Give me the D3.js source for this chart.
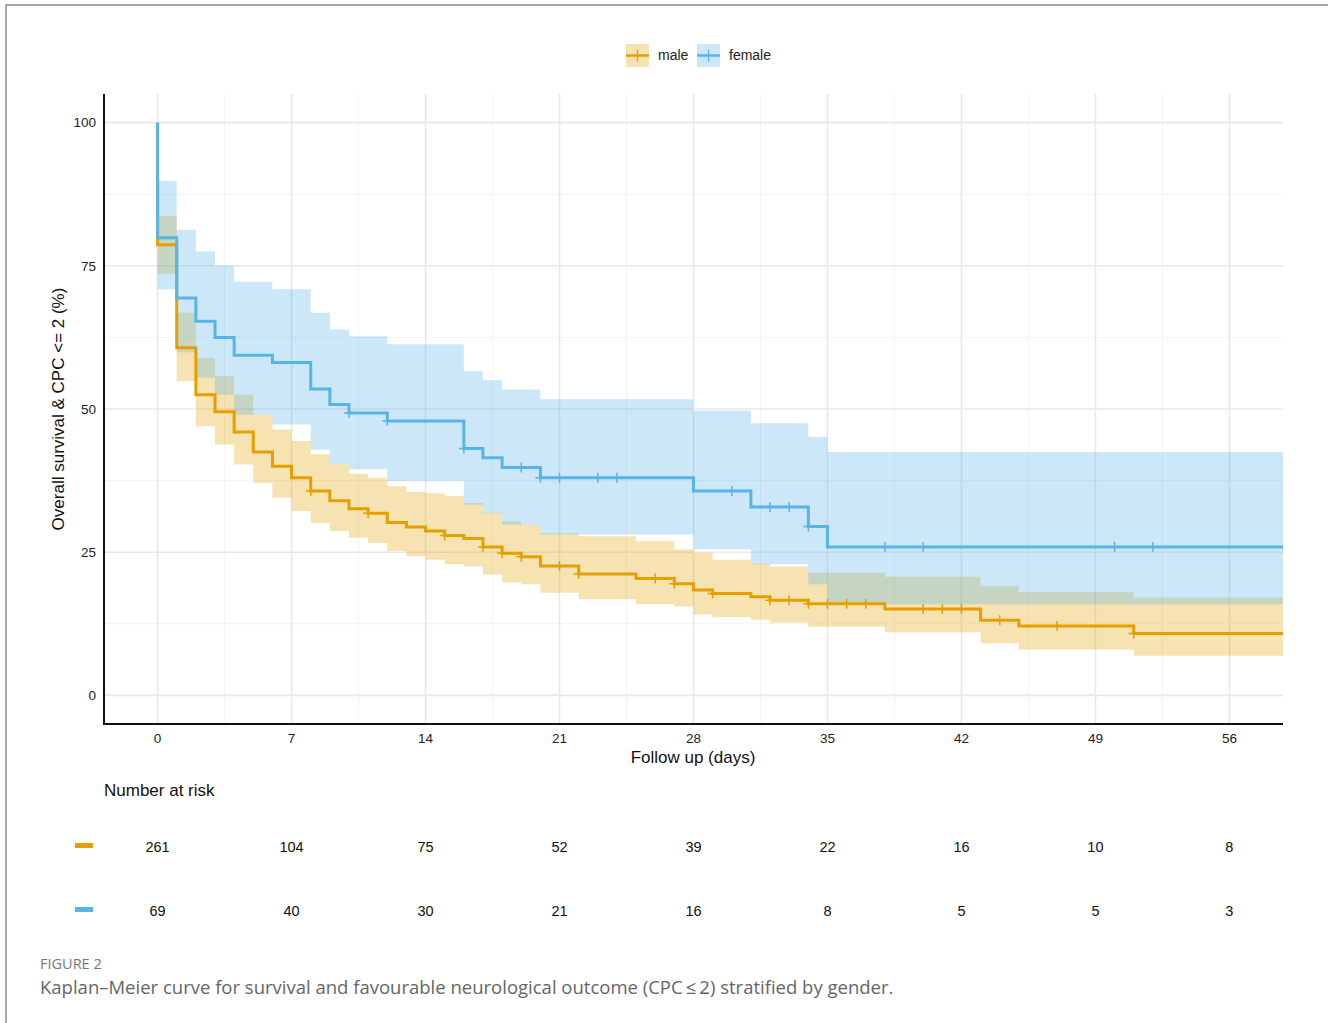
<!DOCTYPE html>
<html>
<head>
<meta charset="utf-8">
<script src="https://cdn.jsdelivr.net/npm/d3@7"></script>
<style>
  html, body { margin: 0; padding: 0; background: #fff; }
  svg { display: block; }
</style>
</head>
<body>
<svg id="fig" width="1328" height="1023"></svg>
<script>
// ---- Kaplan–Meier estimates (percent), 95% CI, by stratum ----
const groups = ["male", "female"];
const groupColors = ["#E69F00", "#56B4E9"];

// male: step times (days), survival, upper CI, lower CI
const maleTime  = [0, 1, 2, 3, 4, 5, 6, 7, 8, 9, 10, 11, 12, 13, 14, 15, 16, 17, 18, 19, 20, 22, 25, 27, 28, 29, 31, 32, 34, 38, 43, 45, 51];
const maleSurv  = [78.7, 60.7, 52.5, 49.5, 46.0, 42.5, 40.0, 38.0, 35.7, 34.0, 32.6, 31.8, 30.2, 29.4, 28.7, 27.9, 27.4, 25.9, 24.8, 24.2, 22.6, 21.2, 20.4, 19.5, 18.4, 17.8, 17.2, 16.6, 16.0, 15.1, 13.1, 12.1, 10.8];
const maleUpper = [83.7, 66.8, 58.9, 55.7, 52.5, 49.0, 46.4, 44.4, 42.1, 40.3, 38.7, 38.0, 36.5, 35.5, 35.3, 34.8, 33.6, 31.9, 30.4, 29.8, 28.3, 27.8, 26.9, 25.5, 24.9, 23.7, 23.0, 22.5, 21.4, 20.7, 19.1, 18.0, 17.1];
const maleLower = [73.6, 54.9, 47.0, 43.8, 40.3, 37.1, 34.5, 32.2, 30.1, 28.7, 27.5, 26.6, 25.2, 24.3, 23.7, 22.9, 22.5, 21.1, 19.7, 19.4, 17.9, 16.8, 15.9, 15.5, 14.1, 13.7, 13.2, 12.7, 12.0, 11.0, 9.1, 8.0, 6.9];
const maleCensor = [8, 11, 15, 17, 18, 19, 21, 22, 26, 27, 29, 32, 33, 34, 35, 36, 37, 40, 41, 42, 44, 47, 51];

// female
const femaleTime  = [0, 1, 2, 3, 4, 6, 8, 9, 10, 12, 16, 17, 18, 20, 28, 31, 34, 35];
const femaleSurv  = [79.9, 69.4, 65.3, 62.5, 59.4, 58.1, 53.5, 50.8, 49.3, 47.9, 43.1, 41.5, 39.8, 38.0, 35.7, 32.9, 29.5, 25.9];
const femaleUpper = [89.8, 81.3, 77.5, 75.0, 72.2, 70.9, 66.8, 63.9, 62.7, 61.3, 56.6, 55.0, 53.4, 51.7, 49.7, 47.5, 45.1, 42.5];
const femaleLower = [70.9, 59.9, 55.5, 52.5, 49.0, 47.3, 42.9, 40.3, 39.5, 37.4, 33.3, 31.8, 29.8, 28.1, 25.5, 22.9, 19.4, 15.9];
const femaleCensor = [10, 12, 16, 19, 20, 21, 23, 24, 30, 32, 33, 34, 38, 40, 50, 52];

const lastFollowUp = 58.8;

// number at risk
const riskTimes  = [0, 7, 14, 21, 28, 35, 42, 49, 56];
const maleRisk   = [261, 104, 75, 52, 39, 22, 16, 10, 8];
const femaleRisk = [69, 40, 30, 21, 16, 8, 5, 5, 3];

const xTicks = [0, 7, 14, 21, 28, 35, 42, 49, 56];
const yTicks = [0, 25, 50, 75, 100];

// ---- layout ----
const svg = d3.select("#fig");
const panel = { left: 104, right: 1283, top: 94, bottom: 724 };
const x = d3.scaleLinear().domain([-2.8, 58.8]).range([panel.left, panel.right]);
const y = d3.scaleLinear().domain([-5, 105]).range([panel.bottom, panel.top]);
const sans = "'Liberation Sans', Arial, Helvetica, sans-serif";

// outer frame of the figure
svg.append("path")
  .attr("d", "M6,1023 L6,5 L1328,5")
  .attr("fill", "none").attr("stroke", "#8a8a8a").attr("stroke-width", 1.5);

// gridlines
const grid = svg.append("g");
const minorX = d3.range(0, 56, 7).map(d => d + 3.5);
const minorY = [12.5, 37.5, 62.5, 87.5];
grid.selectAll(".mx").data(minorX).join("line")
  .attr("x1", d => x(d)).attr("x2", d => x(d)).attr("y1", panel.top).attr("y2", panel.bottom)
  .attr("stroke", "#f3f3f3").attr("stroke-width", 1);
grid.selectAll(".my").data(minorY).join("line")
  .attr("x1", panel.left).attr("x2", panel.right).attr("y1", d => y(d)).attr("y2", d => y(d))
  .attr("stroke", "#f3f3f3").attr("stroke-width", 1);
grid.selectAll(".gx").data(xTicks).join("line")
  .attr("x1", d => x(d)).attr("x2", d => x(d)).attr("y1", panel.top).attr("y2", panel.bottom)
  .attr("stroke", "#e8e8e8").attr("stroke-width", 1.6);
grid.selectAll(".gy").data(yTicks).join("line")
  .attr("x1", panel.left).attr("x2", panel.right).attr("y1", d => y(d)).attr("y2", d => y(d))
  .attr("stroke", "#e8e8e8").attr("stroke-width", 1.6);

// build step series: start at 100% and hold the final value to the end of follow-up
function series(time, surv, upper, lower) {
  const rows = [{ t: 0, s: 100, u: 100, l: 100 }];
  time.forEach((t, i) => rows.push({ t, s: surv[i], u: upper[i], l: lower[i] }));
  const last = rows[rows.length - 1];
  rows.push({ t: lastFollowUp, s: last.s, u: last.u, l: last.l });
  return rows;
}
const data = [
  { name: "male", rows: series(maleTime, maleSurv, maleUpper, maleLower), censor: maleCensor },
  { name: "female", rows: series(femaleTime, femaleSurv, femaleUpper, femaleLower), censor: femaleCensor }
];
function survAt(rows, t) {
  let v = rows[0].s;
  for (const r of rows) { if (r.t <= t) v = r.s; else break; }
  return v;
}

const area = d3.area().curve(d3.curveStepAfter)
  .x(d => x(d.t)).y0(d => y(d.l)).y1(d => y(d.u));
const line = d3.line().curve(d3.curveStepAfter)
  .x(d => x(d.t)).y(d => y(d.s));

// confidence bands
data.forEach((g, i) => {
  svg.append("path").datum(g.rows)
    .attr("d", area).attr("fill", groupColors[i]).attr("fill-opacity", 0.3);
});

// survival curves and censoring marks
data.forEach((g, i) => {
  svg.append("path").datum(g.rows)
    .attr("d", line).attr("fill", "none")
    .attr("stroke", groupColors[i]).attr("stroke-width", 3);
  svg.append("g").selectAll("path").data(g.censor).join("path")
    .attr("d", t => {
      const cx = x(t), cy = y(survAt(g.rows, t));
      return `M${cx},${cy - 5}L${cx},${cy + 5}M${cx - 5},${cy}L${cx + 5},${cy}`;
    })
    .attr("stroke", groupColors[i]).attr("stroke-width", 1.5);
});

// axes lines
svg.append("line").attr("x1", panel.left).attr("x2", panel.left)
  .attr("y1", panel.top).attr("y2", panel.bottom + 1)
  .attr("stroke", "#111").attr("stroke-width", 2);
svg.append("line").attr("x1", panel.left - 1).attr("x2", panel.right)
  .attr("y1", panel.bottom).attr("y2", panel.bottom)
  .attr("stroke", "#111").attr("stroke-width", 2);

// tick labels
svg.append("g").selectAll("text").data(yTicks).join("text")
  .attr("x", 96).attr("y", d => y(d)).attr("dy", "0.35em")
  .attr("text-anchor", "end").attr("font-family", sans).attr("font-size", 13.5)
  .attr("fill", "#222").text(d => d);
svg.append("g").selectAll("text").data(xTicks).join("text")
  .attr("x", d => x(d)).attr("y", 743)
  .attr("text-anchor", "middle").attr("font-family", sans).attr("font-size", 13.5)
  .attr("fill", "#222").text(d => d);

// axis titles
svg.append("text").attr("x", 693).attr("y", 763)
  .attr("text-anchor", "middle").attr("font-family", sans).attr("font-size", 17)
  .attr("fill", "#111").text("Follow up (days)");
svg.append("text")
  .attr("transform", `translate(64,${(panel.top + panel.bottom) / 2}) rotate(-90)`)
  .attr("text-anchor", "middle").attr("font-family", sans).attr("font-size", 17)
  .attr("fill", "#111").text("Overall survival & CPC <= 2 (%)");

// legend
const legend = svg.append("g");
const legendX = [626, 697];
groups.forEach((name, i) => {
  const lx = legendX[i], ly = 44;
  legend.append("rect").attr("x", lx).attr("y", ly).attr("width", 23).attr("height", 23)
    .attr("fill", groupColors[i]).attr("fill-opacity", 0.3);
  legend.append("line").attr("x1", lx).attr("x2", lx + 23).attr("y1", ly + 11.5).attr("y2", ly + 11.5)
    .attr("stroke", groupColors[i]).attr("stroke-width", 2.5);
  legend.append("line").attr("x1", lx + 11.5).attr("x2", lx + 11.5).attr("y1", ly + 5.5).attr("y2", ly + 17.5)
    .attr("stroke", groupColors[i]).attr("stroke-width", 1.3);
  legend.append("text").attr("x", lx + 32).attr("y", ly + 11.5).attr("dy", "0.35em")
    .attr("font-family", sans).attr("font-size", 14).attr("fill", "#222").text(name);
});

// number-at-risk table
svg.append("text").attr("x", 104).attr("y", 796)
  .attr("font-family", sans).attr("font-size", 17).attr("fill", "#111").text("Number at risk");
const riskRows = [maleRisk, femaleRisk];
const rowY = [847, 911];
riskRows.forEach((vals, i) => {
  svg.append("rect").attr("x", 75).attr("y", rowY[i] - 4).attr("width", 18).attr("height", 5)
    .attr("fill", groupColors[i]);
  svg.append("g").selectAll("text").data(riskTimes).join("text")
    .attr("x", d => x(d)).attr("y", rowY[i]).attr("dy", "0.35em")
    .attr("text-anchor", "middle").attr("font-family", sans).attr("font-size", 14.5)
    .attr("fill", "#111").text((d, j) => vals[j]);
});

// caption
svg.append("text").attr("x", 40).attr("y", 968.5)
  .attr("font-family", "'Open Sans', sans-serif").attr("font-size", 14.5)
  .attr("fill", "#777").text("FIGURE 2");
svg.append("text").attr("x", 40).attr("y", 993.5)
  .attr("font-family", "'Open Sans', sans-serif").attr("font-size", 18.5)
  .attr("fill", "#666")
  .text("Kaplan\u2013Meier curve for survival and favourable neurological outcome (CPC\u2009\u2264\u20092) stratified by gender.");
</script>
</body>
</html>
